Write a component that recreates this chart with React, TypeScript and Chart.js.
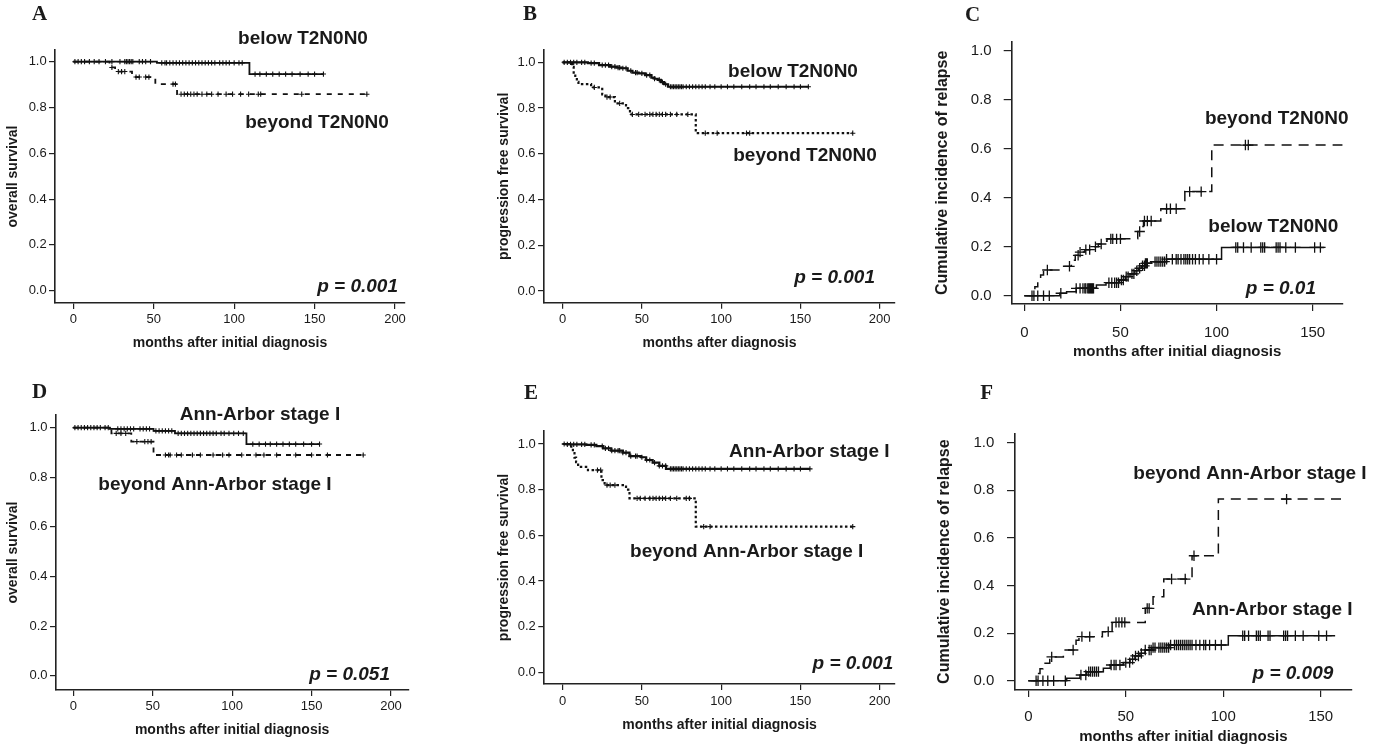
import React, { useEffect, useRef } from "react";
import { Chart, registerables } from "chart.js";
Chart.register(...registerables);

// ---------------- data ----------------
const X_TICKS_200 = [0, 50, 100, 150, 200];
const X_TICKS_150 = [0, 50, 100, 150];
const Y_TICKS = [0, 0.2, 0.4, 0.6, 0.8, 1.0];

// Panel A – overall survival, T stage
const A_BELOW_T = [0, 52, 109.5, 155.5];
const A_BELOW_S = [1, 0.995, 0.946, 0.946];
const A_BELOW_CENS = [1, 3, 5, 7, 10, 13, 16, 20, 24, 29, 32, 33, 34, 35, 36, 37, 41, 43, 45, 48, 55, 57, 58, 60, 62, 64, 66, 68, 70, 72, 74, 76, 78, 80, 82, 84, 86, 88, 91, 93, 95, 97, 100, 103, 105, 113, 116, 120, 124, 128, 132, 136, 141, 146, 150, 155.5];
const A_BEYOND_T = [0, 22.5, 26, 36.5, 51, 64.5, 182.5];
const A_BEYOND_S = [1, 0.975, 0.957, 0.933, 0.902, 0.858, 0.858];
const A_BEYOND_CENS = [24, 28, 30, 32, 39, 41, 45, 47, 62, 63.5, 67, 69, 71, 73, 75, 77, 80, 83, 86, 90, 95, 99, 104, 109, 115, 116.5, 142, 182.5];

// Panel B – progression free survival, T stage
const B_BELOW_T = [0, 16, 23, 30, 34, 37, 41, 44, 48, 52, 56, 58, 60, 62, 64, 66.5, 155];
const B_BELOW_S = [1, 0.996, 0.988, 0.981, 0.977, 0.974, 0.963, 0.955, 0.952, 0.944, 0.933, 0.928, 0.923, 0.913, 0.904, 0.893, 0.893];
const B_BELOW_CENS = [1, 3, 5, 7, 9, 12, 14, 18, 20, 25, 27, 29, 31, 33, 35, 36, 38, 40, 43, 46, 47, 50, 53, 55, 58, 61, 63, 65, 68, 69, 70, 71, 72, 73, 74, 75, 76, 78, 80, 82, 84, 86, 88, 90, 93, 96, 100, 104, 108, 113, 118, 122, 127, 131, 136, 141, 146, 150, 155];
const B_BEYOND_T = [0, 6, 7, 8, 9, 10, 18, 25, 27, 33, 40, 42.5, 84, 183];
const B_BEYOND_S = [1, 0.98, 0.955, 0.935, 0.915, 0.905, 0.89, 0.86, 0.848, 0.82, 0.8, 0.772, 0.69, 0.69];
const B_BEYOND_CENS = [20, 28, 30, 36, 44, 48, 52, 55, 57, 59, 61, 63, 65, 68, 72, 79, 90, 97.5, 116, 118, 183];

// Panel C – cumulative incidence of relapse, T stage
const C_BELOW_T = [0, 18.5, 22, 27, 37.5, 42.5, 49.5, 52.5, 55, 57.5, 59.3, 61, 62.7, 66, 74, 102.6, 156];
const C_BELOW_S = [0, 0.01, 0.016, 0.03, 0.044, 0.053, 0.064, 0.078, 0.089, 0.102, 0.112, 0.122, 0.132, 0.139, 0.149, 0.197, 0.197];
const C_BELOW_CENS = [4, 5, 7, 10, 13, 19, 27, 29, 30.5, 31.5, 32, 33, 33.5, 34, 34.5, 35, 35.5, 36, 44, 45.5, 47, 48, 49, 50.5, 51.5, 53, 54, 56, 57, 58.5, 60, 61.5, 62.5, 63, 63.5, 64, 68, 69, 70, 71, 72, 73, 74, 77, 79, 80, 81.5, 83, 84, 85, 86, 87.5, 89, 91, 93, 96, 100, 110, 111, 114, 118, 123, 124, 125, 131, 132, 133, 136, 141, 151, 154];
const C_BEYOND_T = [0, 5.5, 7, 8.5, 10, 18, 24.5, 26.5, 28.5, 31.5, 35, 38.5, 41, 43, 59, 61, 62, 71, 83.5, 97.5, 166];
const C_BEYOND_S = [0, 0.037, 0.064, 0.085, 0.105, 0.12, 0.145, 0.165, 0.178, 0.188, 0.2, 0.211, 0.222, 0.232, 0.262, 0.282, 0.305, 0.355, 0.425, 0.615, 0.615];
const C_BEYOND_CENS = [12, 23.5, 28, 29, 32, 34, 37, 40, 45, 46, 48, 50, 60, 62.5, 64, 66, 74, 76, 79, 86, 92, 115, 116.5];

// Panel D – overall survival, Ann-Arbor stage
const D_BELOW_T = [0, 23, 50.5, 64, 109, 155];
const D_BELOW_S = [1, 0.995, 0.987, 0.977, 0.934, 0.934];
const D_BELOW_CENS = [1, 3, 5, 7, 9, 11, 13, 15, 17, 20, 22, 28, 30, 32, 34, 36, 38, 42, 44, 46, 48, 52, 54, 56, 58, 60, 62, 66, 68, 70, 72, 74, 76, 78, 80, 82, 84, 86, 88, 90, 93, 95, 98, 101, 104, 107, 113, 117, 121, 124, 128, 132, 136, 140, 145, 150, 155];
const D_BEYOND_T = [0, 24, 36.5, 50.5, 182.5];
const D_BEYOND_S = [1, 0.977, 0.944, 0.89, 0.89];
const D_BEYOND_CENS = [27, 30, 33, 40, 45, 47, 49, 58, 60, 61, 65, 68, 75, 80, 88, 94, 98, 106, 115, 120, 128, 140, 150, 160, 182.5];

// Panel E – progression free survival, Ann-Arbor stage
const E_BELOW_T = [0, 2.5, 15, 21.3, 25.5, 30.7, 38, 42.2, 49.5, 52.7, 56.8, 61, 65.2, 156];
const E_BELOW_S = [1, 0.998, 0.996, 0.991, 0.981, 0.971, 0.962, 0.947, 0.942, 0.93, 0.918, 0.904, 0.891, 0.891];
const E_BELOW_CENS = [1, 3, 5, 7, 9, 12, 14, 18, 20, 25, 27, 29, 31, 33, 35, 36, 38, 40, 43, 46, 47, 50, 53, 55, 58, 61, 63, 65, 68, 69, 70, 71, 72, 73, 74, 75, 76, 78, 80, 82, 84, 86, 88, 90, 93, 96, 100, 104, 108, 113, 118, 122, 127, 131, 136, 141, 146, 150, 156];
const E_BEYOND_T = [0, 5.5, 6.5, 7.5, 8.5, 9.8, 16, 24.5, 26.5, 40, 42.2, 84, 183];
const E_BEYOND_S = [1, 0.98, 0.96, 0.94, 0.92, 0.9, 0.886, 0.842, 0.82, 0.8, 0.762, 0.638, 0.638];
const E_BEYOND_CENS = [22, 24, 28, 30, 33, 47, 49, 52, 55, 57, 59, 61, 63, 65, 68, 72, 78, 80, 89, 93, 183];

// Panel F – cumulative incidence of relapse, Ann-Arbor stage
const F_BELOW_T = [0, 19.7, 26.5, 30, 38.5, 42, 48.7, 52.2, 54.7, 57.3, 59.9, 63.3, 72.7, 102.6, 157.4];
const F_BELOW_S = [0, 0.01, 0.024, 0.038, 0.052, 0.066, 0.076, 0.09, 0.104, 0.115, 0.129, 0.139, 0.15, 0.189, 0.189];
const F_BELOW_CENS = [4, 5, 7.5, 10, 13, 19, 27, 29.5, 31, 32, 33, 34, 35, 36, 42.5, 44, 45, 47, 50, 52, 53.5, 55, 56.5, 58, 60, 62, 63, 64, 65, 67, 68, 69, 70, 71, 72, 73, 75, 76, 77, 78, 79, 80, 81, 82, 83, 84, 86, 88, 90, 91, 93, 96, 99, 110, 111, 113, 117, 118, 119, 123, 124, 131, 132, 133, 137, 141, 149, 153];
const F_BEYOND_T = [0, 4.5, 6, 7.5, 11, 18, 24.5, 26, 38, 43, 60, 64, 69.5, 84, 97.5, 163];
const F_BEYOND_S = [0, 0.03, 0.05, 0.073, 0.1, 0.129, 0.17, 0.185, 0.206, 0.245, 0.304, 0.353, 0.427, 0.525, 0.763, 0.763];
const F_BEYOND_CENS = [12, 23, 27.5, 31.5, 41, 45, 46.5, 48, 49.5, 61, 62, 73.5, 80.5, 85, 132.5];

// ---------------- styling / layout ----------------
const SANS = "'Liberation Sans', Arial, Helvetica, sans-serif";
const SERIF = "'Liberation Serif', 'Times New Roman', serif";
const INK = "#1a1a1a";
const LINE = "#111111";

type Curve = { T: number[]; S: number[]; cens: number[]; dash: number[]; width: number; mark: number; markW: number };
type Txt = { text: string; x: number; y: number; align: CanvasTextAlign; font: string };
type PanelCfg = {
  rect: { x: number; y: number; w: number; h: number };
  area: { l: number; t: number; r: number; b: number };
  xCal: { p0: number; v1: number; p1: number };
  yCal: { p0: number; p1: number };
  xTicks: number[];
  big: boolean;
  xTitle: string;
  yTitle: string;
  xLabelY: number;
  xTitleY: number;
  yTitleX: number;
  yLabelRight: number;
  curves: Curve[];
  texts: Txt[];
};

const LETTER = `bold 21px ${SERIF}`;
const NOTE = `bold 19px ${SANS}`;
const PVAL = `italic bold 19px ${SANS}`;

const small = (T: number[], S: number[], cens: number[], dash: number[], width: number): Curve => ({ T, S, cens, dash, width, mark: 2.6, markW: 1.1 });
const large = (T: number[], S: number[], cens: number[], dash: number[]): Curve => ({ T, S, cens, dash, width: 1.5, mark: 5.2, markW: 1.3 });

const PANELS: PanelCfg[] = [
  {
    rect: { x: 0, y: 0, w: 420, h: 360 },
    area: { l: 55, t: 50, r: 405, b: 303 },
    xCal: { p0: 73.3, v1: 200, p1: 395 },
    yCal: { p0: 290.7, p1: 61.7 },
    xTicks: X_TICKS_200, big: false,
    xTitle: "months after initial diagnosis", yTitle: "overall survival",
    xLabelY: 319, xTitleY: 343, yTitleX: 13.3, yLabelRight: 46.7,
    curves: [
      small(A_BELOW_T, A_BELOW_S, A_BELOW_CENS, [], 1.8),
      small(A_BEYOND_T, A_BEYOND_S, A_BEYOND_CENS, [5, 6], 1.8),
    ],
    texts: [
      { text: "A", x: 39.5, y: 15, align: "center", font: LETTER },
      { text: "below T2N0N0", x: 303, y: 39, align: "center", font: NOTE },
      { text: "beyond T2N0N0", x: 317, y: 123, align: "center", font: NOTE },
      { text: "p = 0.001", x: 398, y: 287, align: "right", font: PVAL },
    ],
  },
  {
    rect: { x: 420, y: 0, w: 480, h: 360 },
    area: { l: 544, t: 50, r: 897, b: 302.7 },
    xCal: { p0: 562.7, v1: 200, p1: 881.7 },
    yCal: { p0: 291, p1: 62.3 },
    xTicks: X_TICKS_200, big: false,
    xTitle: "months after diagnosis", yTitle: "progression free survival",
    xLabelY: 319, xTitleY: 343, yTitleX: 504, yLabelRight: 535.5,
    curves: [
      small(B_BELOW_T, B_BELOW_S, B_BELOW_CENS, [], 2.2),
      small(B_BEYOND_T, B_BEYOND_S, B_BEYOND_CENS, [2.5, 2.5], 2.2),
    ],
    texts: [
      { text: "B", x: 530, y: 15, align: "center", font: LETTER },
      { text: "below T2N0N0", x: 793, y: 72, align: "center", font: NOTE },
      { text: "beyond T2N0N0", x: 805, y: 156, align: "center", font: NOTE },
      { text: "p = 0.001", x: 875, y: 278, align: "right", font: PVAL },
    ],
  },
  {
    rect: { x: 900, y: 0, w: 487, h: 365 },
    area: { l: 1011.7, t: 41.7, r: 1342.7, b: 304 },
    xCal: { p0: 1024.3, v1: 150, p1: 1312.7 },
    yCal: { p0: 295.7, p1: 50.7 },
    xTicks: X_TICKS_150, big: true,
    xTitle: "months after initial diagnosis", yTitle: "Cumulative incidence of relapse",
    xLabelY: 333.3, xTitleY: 352.3, yTitleX: 943, yLabelRight: 991.7,
    curves: [
      large(C_BELOW_T, C_BELOW_S, C_BELOW_CENS, []),
      large(C_BEYOND_T, C_BEYOND_S, C_BEYOND_CENS, [10, 7]),
    ],
    texts: [
      { text: "C", x: 972.5, y: 15.7, align: "center", font: LETTER },
      { text: "beyond T2N0N0", x: 1276.7, y: 118.3, align: "center", font: NOTE },
      { text: "below T2N0N0", x: 1273.3, y: 226.7, align: "center", font: NOTE },
      { text: "p = 0.01", x: 1316, y: 288.3, align: "right", font: PVAL },
    ],
  },
  {
    rect: { x: 0, y: 370, w: 420, h: 378 },
    area: { l: 56, t: 415, r: 408.3, b: 690 },
    xCal: { p0: 73.3, v1: 200, p1: 391 },
    yCal: { p0: 675.7, p1: 427.7 },
    xTicks: X_TICKS_200, big: false,
    xTitle: "months after initial diagnosis", yTitle: "overall survival",
    xLabelY: 706, xTitleY: 730, yTitleX: 13.3, yLabelRight: 47.5,
    curves: [
      small(D_BELOW_T, D_BELOW_S, D_BELOW_CENS, [], 1.8),
      small(D_BEYOND_T, D_BEYOND_S, D_BEYOND_CENS, [5, 5], 1.8),
    ],
    texts: [
      { text: "D", x: 39.5, y: 392.5, align: "center", font: LETTER },
      { text: "Ann-Arbor stage I", x: 260, y: 415, align: "center", font: NOTE },
      { text: "beyond Ann-Arbor stage I", x: 215, y: 485, align: "center", font: NOTE },
      { text: "p = 0.051", x: 390, y: 675, align: "right", font: PVAL },
    ],
  },
  {
    rect: { x: 420, y: 370, w: 480, h: 378 },
    area: { l: 544.3, t: 431, r: 897, b: 684 },
    xCal: { p0: 562.7, v1: 200, p1: 881.7 },
    yCal: { p0: 672.3, p1: 444 },
    xTicks: X_TICKS_200, big: false,
    xTitle: "months after initial diagnosis", yTitle: "progression free survival",
    xLabelY: 701, xTitleY: 725, yTitleX: 504, yLabelRight: 535.8,
    curves: [
      small(E_BELOW_T, E_BELOW_S, E_BELOW_CENS, [], 2.2),
      small(E_BEYOND_T, E_BEYOND_S, E_BEYOND_CENS, [2.5, 2.5], 2.2),
    ],
    texts: [
      { text: "E", x: 531, y: 393.5, align: "center", font: LETTER },
      { text: "Ann-Arbor stage I", x: 809.3, y: 451.7, align: "center", font: NOTE },
      { text: "beyond Ann-Arbor stage I", x: 746.7, y: 551.7, align: "center", font: NOTE },
      { text: "p = 0.001", x: 893.3, y: 663.3, align: "right", font: PVAL },
    ],
  },
  {
    rect: { x: 900, y: 370, w: 487, h: 378 },
    area: { l: 1015, t: 433.3, r: 1351.7, b: 690 },
    xCal: { p0: 1028.3, v1: 150, p1: 1320.7 },
    yCal: { p0: 680.7, p1: 442.7 },
    xTicks: X_TICKS_150, big: true,
    xTitle: "months after initial diagnosis", yTitle: "Cumulative incidence of relapse",
    xLabelY: 716.7, xTitleY: 736.7, yTitleX: 944.3, yLabelRight: 994.3,
    curves: [
      large(F_BELOW_T, F_BELOW_S, F_BELOW_CENS, []),
      large(F_BEYOND_T, F_BEYOND_S, F_BEYOND_CENS, [10, 6.7]),
    ],
    texts: [
      { text: "F", x: 986.7, y: 393.5, align: "center", font: LETTER },
      { text: "beyond Ann-Arbor stage I", x: 1250, y: 473.3, align: "center", font: NOTE },
      { text: "Ann-Arbor stage I", x: 1272.3, y: 610, align: "center", font: NOTE },
      { text: "p = 0.009", x: 1333.3, y: 673.3, align: "right", font: PVAL },
    ],
  },
];

function levelAt(T: number[], S: number[], t: number): number {
  let v = S[0];
  for (let i = 0; i < T.length; i++) if (T[i] <= t) v = S[i];
  return v;
}

function buildConfig(p: PanelCfg): any {
  const { rect, area } = p;
  const ppx = (p.xCal.p1 - p.xCal.p0) / p.xCal.v1;
  const xMin = (area.l - p.xCal.p0) / ppx;
  const xMax = (area.r - p.xCal.p0) / ppx;
  const ppy = p.yCal.p0 - p.yCal.p1;
  const yMin = -(area.b - p.yCal.p0) / ppy;
  const yMax = (p.yCal.p0 - area.t) / ppy;

  const tickSize = p.big ? 15 : 13;
  const xTitleSize = p.big ? 15 : 14;
  const yTitleSize = p.big ? 16 : 14;
  const xTL = p.big ? 7 : 6;
  const yTL = p.big ? 8 : 6;
  const xPad = p.xLabelY - area.b - xTL - (tickSize * 1.2) / 2;
  const xTitlePadB = rect.y + rect.h - p.xTitleY - (xTitleSize * 1.2) / 2;
  const yTitlePadT = p.yTitleX - rect.x - (yTitleSize * 1.2) / 2;
  const yPad = area.l - yTL - p.yLabelRight;
  const yWidth = area.l - rect.x;
  const xHeight = rect.y + rect.h - area.b;

  const datasets: any[] = [];
  p.curves.forEach((c) => {
    datasets.push({
      data: c.T.map((t, i) => ({ x: t, y: c.S[i] })),
      stepped: "before",
      borderColor: LINE,
      borderWidth: c.width,
      borderDash: c.dash,
      pointRadius: 0,
      fill: false,
      order: 2,
    });
    datasets.push({
      data: c.cens.map((t) => ({ x: t, y: levelAt(c.T, c.S, t) })),
      showLine: false,
      pointStyle: "cross",
      pointRadius: c.mark,
      pointBorderWidth: c.markW,
      pointBorderColor: LINE,
      borderColor: LINE,
      backgroundColor: LINE,
      order: 1,
    });
  });

  const texts = p.texts;
  const textPlugin = {
    id: "panelTexts",
    afterDraw(chart: any) {
      const ctx = chart.ctx as CanvasRenderingContext2D;
      ctx.save();
      ctx.fillStyle = INK;
      ctx.textBaseline = "middle";
      for (const t of texts) {
        ctx.font = t.font;
        ctx.textAlign = t.align;
        ctx.fillText(t.text, t.x - rect.x, t.y - rect.y);
      }
      ctx.restore();
    },
  };

  return {
    type: "line",
    data: { datasets },
    plugins: [textPlugin],
    options: {
      responsive: false,
      animation: false,
      events: [],
      layout: { padding: { left: 0, bottom: 0, top: area.t - rect.y, right: rect.x + rect.w - area.r } },
      plugins: { legend: { display: false }, tooltip: { enabled: false }, title: { display: false } },
      scales: {
        x: {
          type: "linear",
          min: xMin,
          max: xMax,
          bounds: "data",
          afterBuildTicks: (s: any) => { s.ticks = p.xTicks.map((v) => ({ value: v })); },
          afterFit: (s: any) => { s.height = xHeight; },
          grid: { display: true, drawOnChartArea: false, drawTicks: true, tickLength: xTL, color: "#222", lineWidth: 1.2 },
          border: { display: true, color: "#222", width: 1.6 },
          ticks: {
            padding: xPad,
            color: INK,
            font: { family: SANS, size: tickSize },
            maxRotation: 0,
            autoSkip: false,
            callback: (v: any) => String(v),
          },
          title: {
            display: true,
            text: p.xTitle,
            color: INK,
            font: { family: SANS, size: xTitleSize, weight: "bold" },
            padding: { top: 0, bottom: xTitlePadB },
          },
        },
        y: {
          type: "linear",
          min: yMin,
          max: yMax,
          bounds: "data",
          afterBuildTicks: (s: any) => { s.ticks = Y_TICKS.map((v) => ({ value: v })); },
          afterFit: (s: any) => { s.width = yWidth; },
          grid: { display: true, drawOnChartArea: false, drawTicks: true, tickLength: yTL, color: "#222", lineWidth: 1.2 },
          border: { display: true, color: "#222", width: 1.6 },
          ticks: {
            padding: yPad,
            color: INK,
            font: { family: SANS, size: tickSize },
            autoSkip: false,
            callback: (v: any) => Number(v).toFixed(1),
          },
          title: {
            display: true,
            text: p.yTitle,
            color: INK,
            font: { family: SANS, size: yTitleSize, weight: "bold" },
            padding: { top: yTitlePadT, bottom: 0 },
          },
        },
      },
    },
  };
}

function Panel({ cfg }: { cfg: PanelCfg }) {
  const ref = useRef<HTMLCanvasElement>(null);
  useEffect(() => {
    const chart = new Chart(ref.current as HTMLCanvasElement, buildConfig(cfg));
    return () => chart.destroy();
  }, [cfg]);
  const { x, y, w, h } = cfg.rect;
  return (
    <canvas
      ref={ref}
      width={w}
      height={h}
      style={{ position: "absolute", left: x, top: y, width: w, height: h }}
    />
  );
}

export default function App() {
  return (
    <div style={{ position: "absolute", left: 0, top: 0, width: 1387, height: 748, background: "#ffffff", overflow: "hidden" }}>
      {PANELS.map((p, i) => (
        <Panel key={i} cfg={p} />
      ))}
    </div>
  );
}
